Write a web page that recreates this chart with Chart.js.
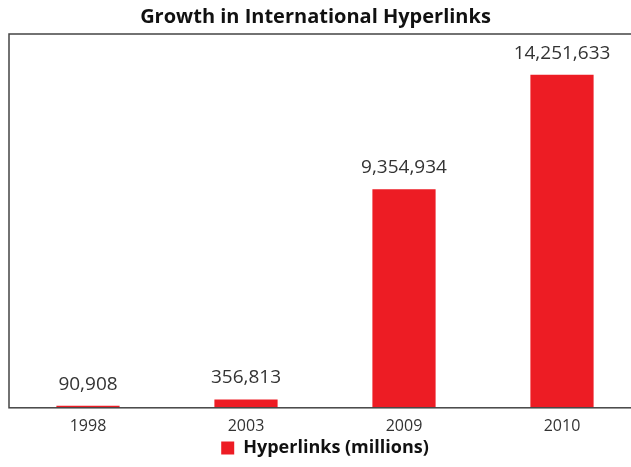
<!DOCTYPE html>
<html>
<head>
<meta charset="utf-8">
<script src="https://cdn.jsdelivr.net/npm/chart.js@4/dist/chart.umd.min.js"></script>
<style>
  html, body { margin: 0; padding: 0; background: #fff; overflow: hidden; }
  #wrap { width: 641px; height: 467px; }
</style>
</head>
<body>
<div id="wrap"><canvas id="hyperChart"></canvas></div>
<script>
const years = ["1998", "2003", "2009", "2010"];
const hyperlinks = [90908, 356813, 9354934, 14251633];
const seriesName = "Hyperlinks (millions)";
const chartTitle = "Growth in International Hyperlinks";

// titre centré sur la fenêtre, cadre de la zone et étiquettes de valeurs
const boxAndLabels = {
    id: "boxAndLabels",
    afterDatasetsDraw(chart) {
        const ctx = chart.ctx;
        const a = chart.chartArea;
        ctx.save();
        ctx.fillStyle = "#111";
        ctx.font = "bold 20px 'Open Sans', sans-serif";
        ctx.textAlign = "center";
        ctx.textBaseline = "middle";
        ctx.fillText(chartTitle, 315.5, 17);

        ctx.strokeStyle = "#444";
        ctx.lineWidth = 1.5;
        ctx.strokeRect(a.left, a.top, a.right - a.left, a.bottom - a.top);

        ctx.fillStyle = "#333";
        ctx.font = "19px 'Open Sans', sans-serif";
        ctx.textBaseline = "bottom";
        chart.getDatasetMeta(0).data.forEach(function (bar, i) {
            ctx.fillText(hyperlinks[i].toLocaleString("en-US"), bar.x, bar.y - 12);
        });
        ctx.restore();
    }
};

new Chart(document.getElementById("hyperChart"), {
    type: "bar",
    data: {
        labels: years,
        datasets: [{
            label: seriesName,
            data: hyperlinks,
            backgroundColor: "#ed1c24",
            borderWidth: 0,
            categoryPercentage: 1,
            barPercentage: 0.4
        }]
    },
    options: {
        responsive: true,
        maintainAspectRatio: false,
        animation: false,
        layout: { padding: { left: 9, right: 0, top: 34, bottom: 0 } },
        scales: {
            x: {
                grid: { display: false },
                border: { display: false },
                ticks: { color: "#333", font: { family: "'Open Sans', sans-serif", size: 16 }, padding: 1 }
            },
            y: {
                display: false,
                min: 0,
                max: 16000000
            }
        },
        plugins: {
            legend: {
                position: "bottom",
                labels: {
                    color: "#111",
                    boxWidth: 13,
                    boxHeight: 13,
                    padding: 2,
                    font: { family: "'Open Sans', sans-serif", size: 18, weight: "bold" }
                }
            },
            tooltip: { enabled: false }
        }
    },
    plugins: [boxAndLabels]
});
</script>
</body>
</html>
